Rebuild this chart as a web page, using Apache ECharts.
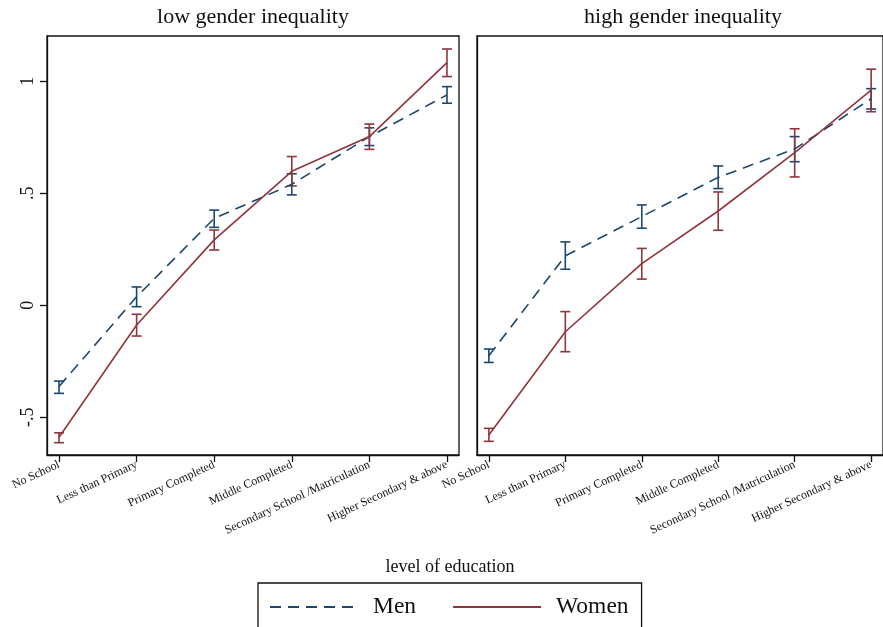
<!DOCTYPE html>
<html>
<head>
<meta charset="utf-8">
<script src="https://cdn.jsdelivr.net/npm/echarts@6/dist/echarts.min.js"></script>
<style>
  html, body { margin: 0; padding: 0; background: #fff; }
  #chart { width: 883px; height: 627px; }
</style>
</head>
<body>
<div id="chart"></div>
<script>
// categories on the x axis
var categories = ['No School', 'Less than Primary', 'Primary Completed', 'Middle Completed',
  'Secondary School /Matriculation', 'Higher Secondary & above'];
var yTickValues = [-0.5, 0, 0.5, 1];
var yTickLabels = ['-.5', '0', '.5', '1'];

// low gender inequality
var lowMen = [-0.362, 0.038, 0.388, 0.540, 0.753, 0.939];
var lowMenLo = [-0.393, -0.006, 0.348, 0.493, 0.713, 0.902];
var lowMenHi = [-0.338, 0.082, 0.425, 0.587, 0.792, 0.976];
var lowWomen = [-0.589, -0.088, 0.292, 0.598, 0.753, 1.083];
var lowWomenLo = [-0.613, -0.137, 0.247, 0.533, 0.696, 1.021];
var lowWomenHi = [-0.569, -0.040, 0.336, 0.664, 0.809, 1.144];

// high gender inequality
var highMen = [-0.225, 0.221, 0.396, 0.571, 0.698, 0.922];
var highMenLo = [-0.255, 0.161, 0.344, 0.521, 0.641, 0.876];
var highMenHi = [-0.195, 0.283, 0.448, 0.622, 0.753, 0.967];
var highWomen = [-0.579, -0.118, 0.186, 0.421, 0.681, 0.960];
var highWomenLo = [-0.607, -0.207, 0.117, 0.335, 0.573, 0.864];
var highWomenHi = [-0.549, -0.028, 0.254, 0.506, 0.788, 1.054];

var MEN_COLOR = '#1a476f';
var WOMEN_COLOR = '#90353b';
var FONT = 'Liberation Serif';
var xIdx = categories.map(function (c, i) { return i; });

function pairs(vals) {
  return vals.map(function (v, i) { return [i, v]; });
}
function bars(lo, hi) {
  return lo.map(function (v, i) { return [i, v, hi[i]]; });
}

// error bar with caps
function renderBar(color) {
  return function (params, api) {
    var top = api.coord([api.value(0), api.value(2)]);
    var bot = api.coord([api.value(0), api.value(1)]);
    var w = 5;
    var style = { stroke: color, lineWidth: 1.6, fill: null };
    return {
      type: 'group',
      children: [
        { type: 'line', shape: { x1: top[0], y1: top[1], x2: bot[0], y2: bot[1] }, style: style },
        { type: 'line', shape: { x1: top[0] - w, y1: top[1], x2: top[0] + w, y2: top[1] }, style: style },
        { type: 'line', shape: { x1: bot[0] - w, y1: bot[1], x2: bot[0] + w, y2: bot[1] }, style: style }
      ]
    };
  };
}

function xAxis(gridIndex) {
  return {
    type: 'value', gridIndex: gridIndex, min: -0.155, max: 5.155,
    splitLine: { show: false },
    axisLine: { show: true, onZero: false, lineStyle: { color: '#111', width: 1.3 } },
    axisTick: { show: true, length: 7, customValues: xIdx, lineStyle: { color: '#111', width: 1.3 } },
    axisLabel: {
      customValues: xIdx, rotate: 25, margin: 9, fontFamily: FONT, fontSize: 12, color: '#111',
      formatter: function (v) { return categories[Math.round(v)]; }
    }
  };
}

function yAxis(gridIndex, labels) {
  return {
    type: 'value', gridIndex: gridIndex, min: -0.668, max: 1.202,
    splitLine: { show: false },
    axisLine: { show: true, onZero: false, lineStyle: { color: '#111', width: 1.3 } },
    axisTick: { show: labels, length: 7, customValues: yTickValues, lineStyle: { color: '#111', width: 1.3 } },
    axisLabel: {
      show: labels, customValues: yTickValues, rotate: 90, margin: 10,
      fontFamily: FONT, fontSize: 18, color: '#111',
      formatter: function (v) { return yTickLabels[yTickValues.indexOf(v)]; }
    }
  };
}

function panelSeries(gi, men, menLo, menHi, women, womenLo, womenHi) {
  return [
    { name: 'Men', type: 'line', xAxisIndex: gi, yAxisIndex: gi, data: pairs(men), symbol: 'none',
      lineStyle: { color: MEN_COLOR, width: 1.6, type: [11, 7] }, itemStyle: { color: MEN_COLOR } },
    { name: 'Women', type: 'line', xAxisIndex: gi, yAxisIndex: gi, data: pairs(women), symbol: 'none',
      lineStyle: { color: WOMEN_COLOR, width: 1.6 }, itemStyle: { color: WOMEN_COLOR } },
    { type: 'custom', xAxisIndex: gi, yAxisIndex: gi, data: bars(menLo, menHi), renderItem: renderBar(MEN_COLOR) },
    { type: 'custom', xAxisIndex: gi, yAxisIndex: gi, data: bars(womenLo, womenHi), renderItem: renderBar(WOMEN_COLOR) }
  ];
}

var chart = echarts.init(document.getElementById('chart'), null, { renderer: 'canvas' });
var option = {
  animation: false,
  backgroundColor: '#fff',
  title: [
    { text: 'low gender inequality', left: 253, top: 6, textAlign: 'center', padding: 0,
      textStyle: { fontFamily: FONT, fontSize: 22, fontWeight: 'normal', color: '#111' } },
    { text: 'high gender inequality', left: 683, top: 6, textAlign: 'center', padding: 0,
      textStyle: { fontFamily: FONT, fontSize: 22, fontWeight: 'normal', color: '#111' } },
    { text: 'level of education', left: 450, top: 558, textAlign: 'center', padding: 0,
      textStyle: { fontFamily: FONT, fontSize: 18, fontWeight: 'normal', color: '#111' } }
  ],
  legend: {
    data: ['Men', 'Women'],
    left: 258, top: 583,
    orient: 'horizontal',
    borderColor: '#111', borderWidth: 1.3,
    padding: [12, 13, 30, 11],
    itemWidth: 88, itemHeight: 22, itemGap: 36,
    selectedMode: false,
    itemStyle: { opacity: 0 },
    textStyle: { fontFamily: FONT, fontSize: 23.5, color: '#111', padding: [0, 0, 0, 10] }
  },
  grid: [
    { left: 47, top: 36, width: 412, height: 419, show: true, borderColor: '#111', borderWidth: 1.3, backgroundColor: '#fff' },
    { left: 477, top: 36, width: 412, height: 419, show: true, borderColor: '#111', borderWidth: 1.3, backgroundColor: '#fff' }
  ],
  xAxis: [xAxis(0), xAxis(1)],
  yAxis: [yAxis(0, true), yAxis(1, false)],
  series: panelSeries(0, lowMen, lowMenLo, lowMenHi, lowWomen, lowWomenLo, lowWomenHi)
    .concat(panelSeries(1, highMen, highMenLo, highMenHi, highWomen, highWomenLo, highWomenHi))
};
chart.setOption(option);
</script>
</body>
</html>
